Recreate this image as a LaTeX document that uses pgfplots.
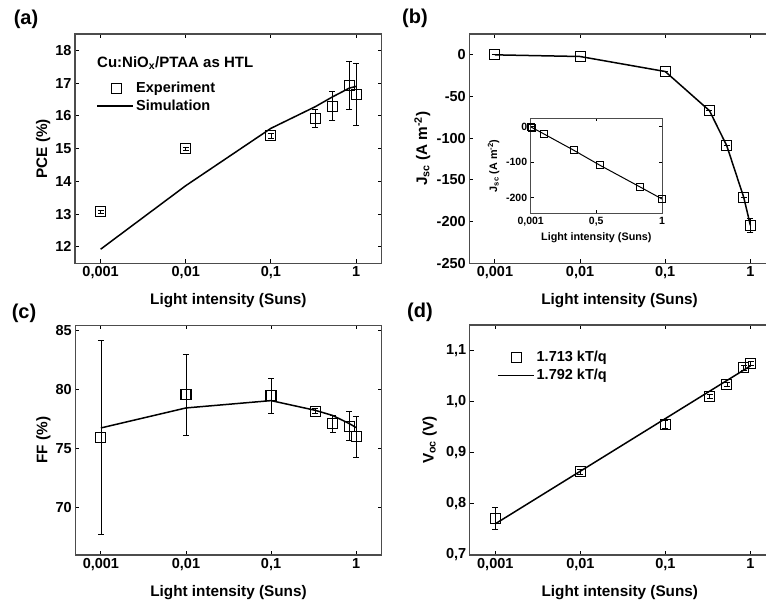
\documentclass[border=0pt]{standalone}
\usepackage{fontspec}
\setmainfont{Liberation Sans}
\usepackage{pgfplots}
\pgfplotsset{compat=1.18}

\pgfplotstableread{
x y e
0.001 13.07 0.05
0.01 15.00 0.05
0.1 15.40 0.08
0.331 15.92 0.27
0.528 16.30 0.44
0.836 16.93 0.73
1 16.66 0.94
}\expA
\pgfplotstableread{
x y
0.001 11.93
0.01 13.87
0.1 15.62
0.331 16.28
0.528 16.58
0.836 16.85
1 16.90
}\simA
\pgfplotstableread{
x y e
0.001 0 0
0.01 -2 0
0.1 -20 0
0.331 -67 0
0.528 -109 0
0.836 -171 0
1 -204.5 8
}\expB
\pgfplotstableread{
x y e
0.001 75.92 8.2
0.01 79.53 3.4
0.1 79.47 1.5
0.331 78.15 0.2
0.528 77.10 0.7
0.836 76.90 1.2
1 75.98 1.75
}\expC
\pgfplotstableread{
x y
0.001 76.74
0.01 78.43
0.1 79.05
0.331 78.23
0.528 77.80
0.836 77.10
1 76.77
}\simC
\pgfplotstableread{
x y e
0.001 0.7715 0.021
0.01 0.8626 0.004
0.1 0.9556 0.008
0.331 1.010 0.004
0.528 1.034 0.004
0.836 1.066 0.004
1 1.074 0.004
}\expD
\pgfplotstableread{
x y
0.001 0.761
0.01 0.864
0.1 0.967
1 1.070
}\simD

\pgfplotsset{
  every axis/.append style={
    tick align=inside, major tick length=4pt, minor tick length=0pt,
    axis line style={black!70, line width=1.1pt},
    tick style={black, line width=0.9pt},
    /pgf/number format/assume math mode=true,
    legend cell align=left,
  },
  mylineleg/.style={legend image code/.code={\draw[black, line width=1.5pt] (0pt,0pt) -- (36pt,0pt);}},
  mymarkleg/.style={legend image code/.code={\path[draw=none] (0pt,0pt) -- (36pt,0pt); \draw[black, line width=1.1pt, mark=square, mark size=5pt, only marks] plot coordinates {(19pt,0pt)};}},
}

\begin{document}
\begin{tikzpicture}
% (a)
\begin{axis}[scale only axis, width=306.7pt, height=229.3pt,
  at={(75pt,341.7pt)}, anchor=south west,
  xmode=log, xmin=0.0005, xmax=2,
  xtick={0.001,0.01,0.1,1}, xticklabels={{0,001},{0,01},{0,1},{1}},
  ymin=11.5, ymax=18.5, ytick={12,13,14,15,16,17,18},
  yticklabels={12,13,14,15,16,17,18},
  tick label style={font=\fontsize{14.5}{16}\selectfont\bfseries},
  xlabel style={font=\fontsize{15.3}{17}\selectfont\bfseries, at={(axis description cs:0.5,-0.162)}, anchor=center},
  ylabel style={font=\fontsize{15.3}{17}\selectfont\bfseries, at={(axis description cs:-0.104,0.5)}, anchor=center},
  xlabel={Light intensity (Suns)},
  ylabel={PCE (\%)},
  legend style={draw=none, fill=none, at={(axis description cs:0.07,0.80)}, anchor=north west,
    font=\fontsize{14.5}{17}\selectfont\bfseries, inner sep=0pt, row sep=2pt}]
\addplot[mymarkleg, only marks, mark=square, mark size=5pt, line width=1.1pt, black,
  error bars/.cd, y dir=both, y explicit,
  error bar style={line width=0.8pt, black},
  error mark options={rotate=90, mark size=3pt, line width=0.8pt, black}]
  table[x=x, y=y, y error=e] {\expA};
\addlegendentry{Experiment}
\addplot[mylineleg, black, line width=1.5pt] table[x=x, y=y] {\simA};
\addlegendentry{Simulation}
\node[anchor=west, font=\fontsize{15}{17}\selectfont\bfseries, inner sep=0pt] at (axis description cs:0.0717,0.8735) {Cu:NiO\textsubscript{x}/PTAA as HTL};
\end{axis}
% (b)
\begin{axis}[scale only axis, width=306.7pt, height=229.3pt,
  at={(469.3pt,341.7pt)}, anchor=south west,
  xmode=log, xmin=0.0005, xmax=2,
  xtick={0.001,0.01,0.1,1}, xticklabels={{0,001},{0,01},{0,1},{1}},
  ymin=-250, ymax=25, ytick={-250,-200,-150,-100,-50,0},
  yticklabels={-250,-200,-150,-100,-50,0},
  tick label style={font=\fontsize{14.5}{16}\selectfont\bfseries},
  xlabel style={font=\fontsize{15.3}{17}\selectfont\bfseries, at={(axis description cs:0.49,-0.162)}, anchor=center},
  ylabel style={font=\fontsize{15.3}{17}\selectfont\bfseries, at={(axis description cs:-0.153,0.5)}, anchor=center},
  xlabel={Light intensity (Suns)},
  ylabel={J\textsubscript{sc} (A m\textsuperscript{-2})}]
\addplot[black, line width=1.5pt, mark=square, mark size=5pt, mark options={line width=1.1pt},
  error bars/.cd, y dir=both, y explicit,
  error bar style={line width=0.8pt, black},
  error mark options={rotate=90, mark size=3pt, line width=0.8pt, black}]
  table[x=x, y=y, y error=e] {\expB};
\end{axis}
% inset
\begin{axis}[scale only axis, at={(530.7pt,391.7pt)}, anchor=south west,
  width=131.3pt, height=95pt, xmin=0.001, xmax=1, ymin=-245, ymax=24,
  xtick={0.001,0.5,1}, xticklabels={{0,001},{0,5},{1}},
  ytick={-200,-100,0}, yticklabels={-200,-100,0},
  major tick length=3pt,
  axis line style={black!70, line width=0.9pt},
  tick style={black, line width=0.7pt},
  axis background/.style={fill=white},
  tick label style={font=\fontsize{10.5}{12}\selectfont\bfseries},
  xlabel style={font=\fontsize{10.8}{12}\selectfont\bfseries},
  ylabel style={font=\fontsize{10.8}{12}\selectfont\bfseries},
  xlabel={Light intensity (Suns)},
  ylabel={J\textsubscript{sc} (A m\textsuperscript{-2})}]
\addplot[black, line width=1pt, mark=square, mark size=3.5pt, mark options={line width=0.9pt}]
  table[x=x, y=y] {\expB};
\end{axis}
% (c)
\begin{axis}[scale only axis, width=306.4pt, height=229.5pt,
  at={(75.3pt,50pt)}, anchor=south west,
  xmode=log, xmin=0.0005, xmax=2,
  xtick={0.001,0.01,0.1,1}, xticklabels={{0,001},{0,01},{0,1},{1}},
  ymin=66, ymax=85.4, ytick={70,75,80,85}, yticklabels={70,75,80,85},
  tick label style={font=\fontsize{14.5}{16}\selectfont\bfseries},
  xlabel style={font=\fontsize{15.3}{17}\selectfont\bfseries, at={(axis description cs:0.5,-0.165)}, anchor=center},
  ylabel style={font=\fontsize{15.3}{17}\selectfont\bfseries, at={(axis description cs:-0.104,0.5)}, anchor=center},
  xlabel={Light intensity (Suns)},
  ylabel={FF (\%)}]
\addplot[only marks, mark=square, mark size=5pt, line width=1.1pt, black,
  error bars/.cd, y dir=both, y explicit,
  error bar style={line width=0.8pt, black},
  error mark options={rotate=90, mark size=3pt, line width=0.8pt, black}]
  table[x=x, y=y, y error=e] {\expC};
\addplot[black, line width=1.5pt] table[x=x, y=y] {\simC};
\end{axis}
% (d)
\begin{axis}[scale only axis, width=306.4pt, height=230pt,
  at={(469.7pt,50pt)}, anchor=south west,
  xmode=log, xmin=0.0005, xmax=2,
  xtick={0.001,0.01,0.1,1}, xticklabels={{0,001},{0,01},{0,1},{1}},
  ymin=0.7, ymax=1.15, ytick={0.7,0.8,0.9,1.0,1.1},
  yticklabels={{0,7},{0,8},{0,9},{1,0},{1,1}},
  tick label style={font=\fontsize{14.5}{16}\selectfont\bfseries},
  xlabel style={font=\fontsize{15.3}{17}\selectfont\bfseries, at={(axis description cs:0.49,-0.165)}, anchor=center},
  ylabel style={font=\fontsize{15.3}{17}\selectfont\bfseries, at={(axis description cs:-0.131,0.5)}, anchor=center},
  xlabel={Light intensity (Suns)},
  ylabel={V\textsubscript{oc} (V)},
  legend style={draw=none, fill=none, at={(axis description cs:0.089,0.895)}, anchor=north west,
    font=\fontsize{14.5}{17}\selectfont\bfseries, inner sep=0pt, row sep=2pt}]
\addplot[mymarkleg, only marks, mark=square, mark size=5pt, line width=1.1pt, black,
  error bars/.cd, y dir=both, y explicit,
  error bar style={line width=0.8pt, black},
  error mark options={rotate=90, mark size=3pt, line width=0.8pt, black}]
  table[x=x, y=y, y error=e] {\expD};
\addlegendentry{1.713 kT/q}
\addplot[mylineleg, black, line width=1.5pt] table[x=x, y=y] {\simD};
\addlegendentry{1.792 kT/q}
\end{axis}
% panel labels
\node[font=\fontsize{20}{22}\selectfont\bfseries] at (26pt,586pt) {(a)};
\node[font=\fontsize{20}{22}\selectfont\bfseries] at (415pt,586.5pt) {(b)};
\node[font=\fontsize{20}{22}\selectfont\bfseries] at (24pt,292pt) {(c)};
\node[font=\fontsize{20}{22}\selectfont\bfseries] at (420pt,293pt) {(d)};
\pgfresetboundingbox
\path[use as bounding box] (0pt,0pt) rectangle (766pt,605pt);
\end{tikzpicture}
\end{document}
